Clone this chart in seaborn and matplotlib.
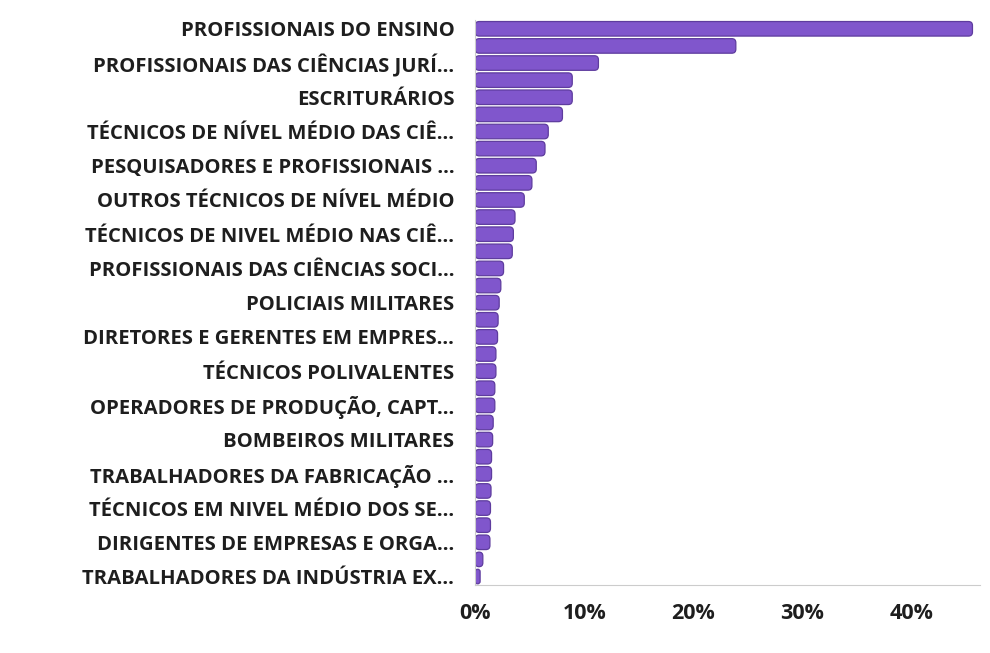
import matplotlib
matplotlib.use("Agg")
import matplotlib.pyplot as plt
from matplotlib.patches import FancyBboxPatch
import seaborn as sns
import pandas as pd

# occupation groups, sorted by share (only every other one is labelled in the chart)
ocupacoes = [
    "PROFISSIONAIS DO ENSINO",
    "MEMBROS SUPERIORES DO PODER PÚBLICO",
    "PROFISSIONAIS DAS CIÊNCIAS JURÍ...",
    "TRABALHADORES DE ATENDIMENTO AO PÚBLICO",
    "ESCRITURÁRIOS",
    "PROFISSIONAIS DAS CIÊNCIAS BIOLÓGICAS",
    "TÉCNICOS DE NÍVEL MÉDIO DAS CIÊ...",
    "PROFISSIONAIS DAS CIÊNCIAS EXATAS",
    "PESQUISADORES E PROFISSIONAIS ...",
    "TRABALHADORES DOS SERVIÇOS",
    "OUTROS TÉCNICOS DE NÍVEL MÉDIO",
    "GERENTES",
    "TÉCNICOS DE NIVEL MÉDIO NAS CIÊ...",
    "TÉCNICOS EM SERVIÇOS DE TRANSPORTES",
    "PROFISSIONAIS DAS CIÊNCIAS SOCI...",
    "PROFISSIONAIS DAS ARTES",
    "POLICIAIS MILITARES",
    "VENDEDORES DO COMÉRCIO",
    "DIRETORES E GERENTES EM EMPRES...",
    "TRABALHADORES DE MANUTENÇÃO",
    "TÉCNICOS POLIVALENTES",
    "TRABALHADORES AGROPECUÁRIOS",
    "OPERADORES DE PRODUÇÃO, CAPT...",
    "TRABALHADORES DA CONSTRUÇÃO CIVIL",
    "BOMBEIROS MILITARES",
    "TRABALHADORES DE FUNÇÕES TRANSVERSAIS",
    "TRABALHADORES DA FABRICAÇÃO ...",
    "TRABALHADORES EM PROCESSOS CONTÍNUOS",
    "TÉCNICOS EM NIVEL MÉDIO DOS SE...",
    "MEMBROS DAS FORÇAS ARMADAS",
    "DIRIGENTES DE EMPRESAS E ORGA...",
    "PESCADORES",
    "TRABALHADORES DA INDÚSTRIA EX...",
]
percentual = [
    45.6, 23.9, 11.3, 8.9, 8.9, 8.0, 6.7, 6.4, 5.6, 5.2, 4.5,
    3.65, 3.5, 3.4, 2.6, 2.35, 2.2, 2.1, 2.05, 1.9, 1.9, 1.8,
    1.8, 1.65, 1.6, 1.5, 1.5, 1.45, 1.4, 1.4, 1.35, 0.7, 0.45,
]
xticks = [0, 10, 20, 30, 40]

df = pd.DataFrame({"ocupacao": ocupacoes, "pct": percentual})

sns.set_style("white")
plt.rcParams["font.family"] = ["Open Sans", "DejaVu Sans"]

fig = plt.figure(figsize=(9.9, 6.53), dpi=100)
ax = fig.add_axes([0.480, 0.104, 0.510, 0.865])

sns.barplot(data=df, x="pct", y="ocupacao", color="#8056cc", width=0.85,
            saturation=1, ax=ax)

# rounded bar ends
px_x = ax.get_position().width * 990 / 46.3
px_y = ax.get_position().height * 653 / 33
for p in list(ax.patches):
    x0, y0 = p.get_x(), p.get_y()
    w, h = p.get_width(), p.get_height()
    r = min(4.0 / px_x, w / 2)
    fb = FancyBboxPatch((x0, y0), w, h,
                        boxstyle=f"round,pad=0,rounding_size={r}",
                        mutation_aspect=px_x / px_y,
                        facecolor="#8056cc", edgecolor="#5e3c9e", linewidth=0.9)
    p.remove()
    ax.add_patch(fb)

ax.set_xlim(0, 46.3)
ax.set_ylim(32.5, -0.5)

idx = list(range(0, len(ocupacoes), 2))
ax.set_yticks(idx)
ax.set_yticklabels([ocupacoes[i] for i in idx], fontsize=14.6,
                   fontweight="bold", color="#1e1e1e")
ax.set_xticks(xticks)
ax.set_xticklabels([f"{t}%" for t in xticks], fontsize=15.5,
                   fontweight="bold", color="#1e1e1e")
ax.tick_params(axis="y", length=5, width=0.8, color="#bbbbbb", pad=10)
ax.tick_params(axis="x", length=5, width=0.8, color="#bbbbbb", pad=8)
ax.set_xlabel("")
ax.set_ylabel("")

for s in ["top", "right"]:
    ax.spines[s].set_visible(False)
ax.spines["bottom"].set_color("#cccccc")
ax.spines["left"].set_color("#cccccc")
ax.spines["left"].set_linewidth(0.8)

fig.savefig("out.png", dpi=100, facecolor="white")
